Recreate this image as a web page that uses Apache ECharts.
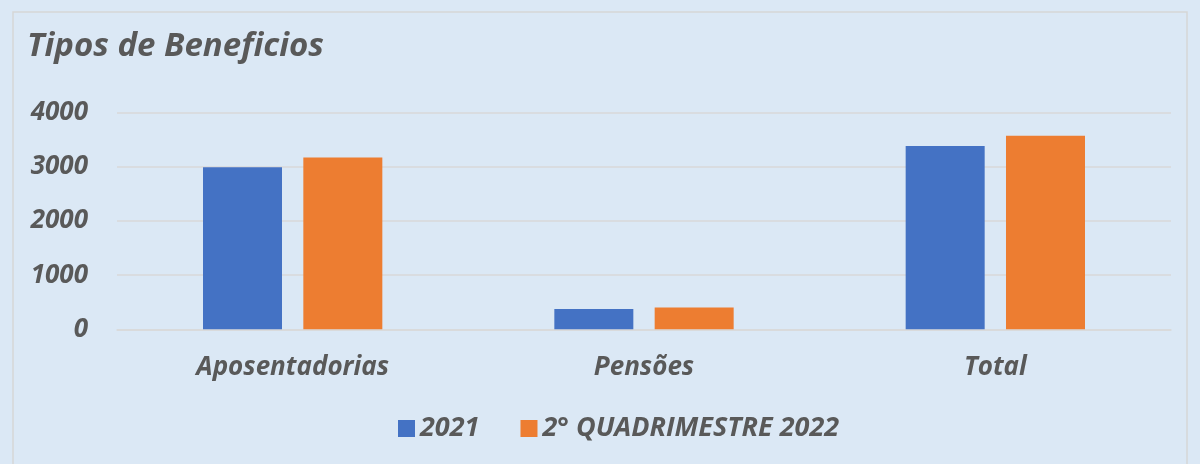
<!DOCTYPE html>
<html>
<head>
<meta charset="utf-8">
<script src="https://cdn.jsdelivr.net/npm/echarts@6/dist/echarts.min.js"></script>
<style>
  html, body { margin: 0; padding: 0; }
  #chart { width: 1200px; height: 464px; }
</style>
</head>
<body>
<div id="chart"></div>
<script>
var categories = ['Aposentadorias', 'Pensões', 'Total'];
var serie2021 = [2990, 375, 3380];
var serieQuad2022 = [3170, 400, 3570];
var yTicks = [0, 1000, 2000, 3000, 4000];

var chart = echarts.init(document.getElementById('chart'));

var textStyle = {
    fontFamily: 'Open Sans',
    fontWeight: 'bold',
    fontStyle: 'italic',
    color: '#595959'
};

var option = {
    backgroundColor: '#dbe8f5',
    animation: false,
    title: {
        text: 'Tipos de Beneficios',
        left: 22,
        top: 25,
        textStyle: Object.assign({}, textStyle, { fontSize: 33 })
    },
    graphic: [{
        type: 'rect',
        shape: { x: 13, y: 12, width: 1174, height: 470 },
        style: { fill: 'none', stroke: '#d6d6d6', lineWidth: 1.5 },
        silent: true
    }],
    legend: {
        top: 410,
        left: 393,
        itemWidth: 17,
        itemHeight: 17,
        itemGap: 41,
        icon: 'rect',
        textStyle: Object.assign({}, textStyle, { fontSize: 27 }),
        data: ['2021', '2° QUADRIMESTRE 2022']
    },
    grid: {
        left: 117,
        right: 29,
        top: 112.5,
        bottom: 134.7
    },
    xAxis: {
        type: 'category',
        data: categories,
        axisLine: { lineStyle: { color: '#d9d9d9', width: 1.5 } },
        axisTick: { show: false },
        axisLabel: Object.assign({}, textStyle, { fontSize: 26, margin: 25 })
    },
    yAxis: {
        type: 'value',
        min: yTicks[0],
        max: yTicks[yTicks.length - 1],
        interval: 1000,
        axisLine: { show: false },
        axisTick: { show: false },
        splitLine: { lineStyle: { color: '#d9d9d9', width: 1.5 } },
        axisLabel: Object.assign({}, textStyle, {
            fontSize: 26,
            margin: 29,
            formatter: function (v) { return String(v); }
        })
    },
    series: [{
        name: '2021',
        type: 'bar',
        data: serie2021,
        barWidth: 79,
        barGap: '27%',
        itemStyle: { color: '#4472c4' }
    }, {
        name: '2° QUADRIMESTRE 2022',
        type: 'bar',
        data: serieQuad2022,
        barWidth: 79,
        itemStyle: { color: '#ed7d31' }
    }]
};

chart.setOption(option);
</script>
</body>
</html>
